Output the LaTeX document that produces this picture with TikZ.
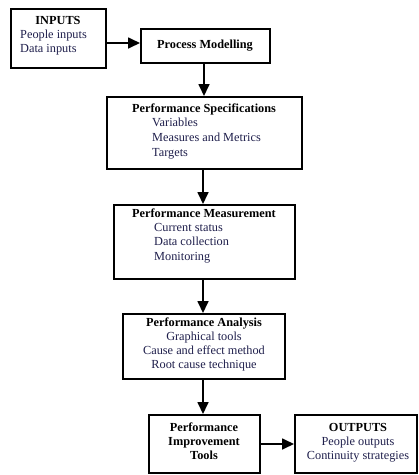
\documentclass[tikz,border=0pt]{standalone}
\usepackage{fontspec}
\setmainfont{Liberation Serif}
\usetikzlibrary{arrows.meta,positioning}
\definecolor{txt}{rgb}{0.12,0.12,0.30}
\tikzset{
  box/.style={draw=black, line width=2.2pt, fill=white, inner sep=0pt, anchor=north west},
  head/.style={font=\fontsize{12.3}{14}\selectfont\bfseries, text=black, inner sep=0pt, text height=8.6pt, text depth=2.6pt},
  item/.style={font=\fontsize{12.3}{14}\selectfont, text=txt, inner sep=0pt, text height=8.6pt, text depth=2.6pt},
  flow/.style={line width=1.7pt, -{Triangle[width=11pt,length=12pt]}},
}
\begin{document}
\begin{tikzpicture}[x=1pt,y=-1pt]
\useasboundingbox (0,0) rectangle (419,475);
\newcommand{\mybox}[5]{%
  \fill (#2+1.5,#3+1.5) rectangle (#4+1.5,#5+1.5);
  \node[box, minimum width=#4-#2, minimum height=#5-#3] (#1) at (#2,#3) {};
}
\mybox{in}{10}{8}{105}{67}
\mybox{pm}{140}{28}{269}{62}
\mybox{ps}{106}{96}{301}{168}
\mybox{pme}{113}{204}{294}{278}
\mybox{pa}{122}{313}{284}{378}
\mybox{pit}{148}{414}{259}{472}
\mybox{out}{294}{414}{416}{472}

% texts
\node[head] (tin) at (58,21) {INPUTS};
\node[item, anchor=west] (tin1) at (20,35) {People inputs};
\node[item, anchor=west] (tin2) at (20,49) {Data inputs};

\node[head] (tpm) at (205,45) {Process Modelling};

\node[head, anchor=west] (tps) at (132,109) {Performance Specifications};
\node[item, anchor=west] (tps1) at (152,123) {Variables};
\node[item, anchor=west] (tps2) at (152,138) {Measures and Metrics};
\node[item, anchor=west] (tps3) at (152,153) {Targets};

\node[head, anchor=west] (tpme) at (132,214) {Performance Measurement};
\node[item, anchor=west] (tpme1) at (154,228) {Current status};
\node[item, anchor=west] (tpme2) at (154,242) {Data collection};
\node[item, anchor=west] (tpme3) at (154,257) {Monitoring};

\node[head] (tpa) at (204,323) {Performance Analysis};
\node[item] (tpa1) at (204,337) {Graphical tools};
\node[item] (tpa2) at (204,351) {Cause and effect method};
\node[item] (tpa3) at (204,365) {Root cause technique};

\node[head] (tpit1) at (204,428) {Performance};
\node[head] (tpit2) at (204,442) {Improvement};
\node[head] (tpit3) at (204,456) {Tools};

\node[head] (tout) at (358,428) {OUTPUTS};
\node[item] (tout1) at (358,442) {People outputs};
\node[item] (tout2) at (358,456) {Continuity strategies};

% connectors
\draw[flow] (in.east |- 0,43) -- (pm.west |- 0,43);
\draw[flow] (pm.south -| 204,0) -- (ps.north -| 204,0);
\draw[flow] (ps.south -| 203,0) -- (pme.north -| 203,0);
\draw[flow] (pme.south -| 203,0) -- (pa.north -| 203,0);
\draw[flow] (pa.south -| 203,0) -- (pit.north -| 203,0);
\draw[flow] (pit.east |- 0,444) -- (out.west |- 0,444);
\end{tikzpicture}
\end{document}
